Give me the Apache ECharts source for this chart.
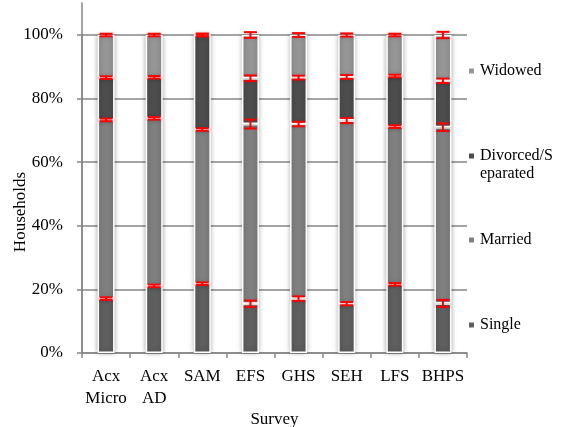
<!DOCTYPE html>
<html><head><meta charset="utf-8">
<script src="https://cdn.jsdelivr.net/npm/echarts@6/dist/echarts.min.js"></script>
<style>html,body{margin:0;padding:0;background:#fff}#c{width:561px;height:427px}</style>
</head><body><div id="c"></div><script>
const categories = ['Acx\nMicro','Acx\nAD','SAM','EFS','GHS','SEH','LFS','BHPS'];
const seriesNames = ['Single','Married','Divorced/Separated','Widowed'];
const single   = [17.1,21.1,21.8,15.5,17.1,15.5,21.6,15.6];
const married  = [56.2,52.7,48.5,56.5,54.9,57.6,49.6,55.4];
const divorced = [13.3,12.9,29.7,14.4,14.6,13.7,15.9,14.6];
const widowed  = [13.4,13.3,0.0,13.6,13.4,13.2,12.9,14.4];
const errSingle   = [0.4,0.4,0.4,1.0,0.7,0.5,0.4,1.1];
const errMarried  = [0.4,0.4,0.4,1.4,0.7,0.8,0.4,1.2];
const errDivorced = [0.4,0.4,0.4,0.9,0.6,0.6,0.4,0.7];
const errWidowed  = [0.4,0.4,0.4,0.9,0.6,0.5,0.4,1.0];
const yTickValues = [0,20,40,60,80,100];
const yTickLabels = ['0%','20%','40%','60%','80%','100%'];

const FONT = 'Liberation Serif';
const colors = ['#5f5f5f','#808080','#4d4d4d','#969696'];
const values = [single, married, divorced, widowed];
const errs = [errSingle, errMarried, errDivorced, errWidowed];

const errData = [];
categories.forEach((c, i) => {
  let cum = 0;
  values.forEach((arr, s) => {
    cum += arr[i];
    errData.push([i, cum, cum - errs[s][i], cum + errs[s][i]]);
  });
});

const chart = echarts.init(document.getElementById('c'), null, {renderer: 'canvas'});
const barSeries = seriesNames.map((n, s) => ({
  name: n, type: 'bar', stack: 'all', xAxisIndex: 0, yAxisIndex: 0,
  barWidth: 17, data: values[s],
  itemStyle: {color: colors[s], borderColor: '#fff', borderWidth: 1.5,
    shadowBlur: 5, shadowColor: 'rgba(0,0,0,0.35)'}
}));

const legendPos = [
  {name: 'Widowed', top: 57},
  {name: 'Divorced/Separated', top: 124},
  {name: 'Married', top: 226},
  {name: 'Single', top: 311}
];

chart.setOption({
  animation: false,
  color: colors,
  grid: [
    {left: 82, right: 94, top: 35, bottom: 74, outerBoundsMode: 'none', containLabel: false},
    {left: 82, right: 94, top: 3, bottom: 74, outerBoundsMode: 'none', containLabel: false}
  ],
  xAxis: [
    {type: 'category', gridIndex: 0, data: categories,
     name: 'Survey', nameLocation: 'middle', nameGap: 58, nameMoveOverlap: false,
     nameTextStyle: {fontFamily: FONT, fontSize: 17, color: '#000'},
     axisLine: {lineStyle: {color: '#868686', width: 1.5}},
     axisTick: {show: true, length: 5, lineStyle: {color: '#868686', width: 1.5}},
     axisLabel: {fontFamily: FONT, fontSize: 17, color: '#000', margin: 13, lineHeight: 22, interval: 0}},
    {type: 'category', gridIndex: 1, data: categories, show: false}
  ],
  yAxis: [
    {type: 'value', gridIndex: 0, min: 0, max: 100, interval: 20,
     name: 'Households', nameLocation: 'middle', nameGap: 53, nameMoveOverlap: false,
     nameTextStyle: {fontFamily: FONT, fontSize: 17, color: '#000', padding: [0, 36, 0, 0]},
     axisLine: {show: true, lineStyle: {color: '#868686', width: 1.5}},
     axisTick: {show: true, length: 5, lineStyle: {color: '#868686', width: 1.5}},
     splitLine: {show: true, lineStyle: {color: '#868686', width: 1.5}},
     axisLabel: {fontFamily: FONT, fontSize: 17, color: '#000', margin: 19,
       formatter: v => yTickLabels[yTickValues.indexOf(v)] || ''}},
    {type: 'value', gridIndex: 1, min: 0, max: 110,
     axisLine: {show: true, lineStyle: {color: '#868686', width: 1.5}},
     axisTick: {show: false}, axisLabel: {show: false}, splitLine: {show: false}}
  ],
  legend: legendPos.map(p => ({
    data: [p.name], orient: 'vertical', left: 462, top: p.top,
    itemWidth: 7, itemHeight: 7, icon: 'rect',
    formatter: n => n === 'Divorced/Separated' ? ' \nDivorced/S\neparated' : n,
    textStyle: {fontFamily: FONT, fontSize: 16, color: '#000', lineHeight: 18}
  })),
  series: barSeries.concat([{
    type: 'custom', xAxisIndex: 0, yAxisIndex: 0, z: 10,
    data: errData, clip: false,
    renderItem: (params, api) => {
      const lo = api.coord([api.value(0), api.value(2)]);
      const hi = api.coord([api.value(0), api.value(3)]);
      const x = lo[0], half = 6.5;
      const st = {stroke: '#ff0000', lineWidth: 2};
      return {type: 'group', children: [
        {type: 'line', shape: {x1: x, y1: lo[1], x2: x, y2: hi[1]}, style: st},
        {type: 'line', shape: {x1: x - half, y1: lo[1], x2: x + half, y2: lo[1]}, style: st},
        {type: 'line', shape: {x1: x - half, y1: hi[1], x2: x + half, y2: hi[1]}, style: st}
      ]};
    }
  }])
});
</script></body></html>
